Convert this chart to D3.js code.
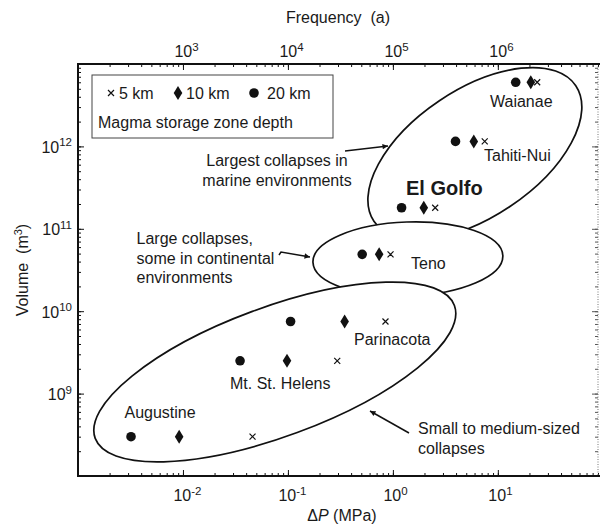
<!DOCTYPE html>
<html>
<head>
<meta charset="utf-8">
<script src="https://cdn.jsdelivr.net/npm/d3@7"></script>
<style>
  html, body { margin: 0; padding: 0; background: #fff; }
  text { font-family: "Liberation Sans", Arial, Helvetica, sans-serif; fill: #1a1a1a; }
</style>
</head>
<body>
<svg id="chart" width="600" height="527"></svg>
<script>
// ---------------- data ----------------
const volcanoes = ["Augustine", "Mt. St. Helens", "Parinacota", "Teno", "El Golfo", "Tahiti-Nui", "Waianae"];
const volume    = [3.0e8, 2.5e9, 7.5e9, 4.9e10, 1.8e11, 1.15e12, 6.0e12];   // m^3
const dp20km    = [0.0032, 0.035, 0.106, 0.51, 1.21, 3.95, 14.8];         // MPa, 20 km depth (circle)
const dp10km    = [0.0092, 0.098, 0.347, 0.74, 1.97, 5.9, 20.6];          // MPa, 10 km depth (diamond)
const dp5km     = [0.046, 0.295, 0.85, 0.95, 2.53, 7.5, 23.7];            // MPa, 5 km depth (cross)

const xTickValues = [1e-2, 1e-1, 1e0, 1e1];
const xTickExp    = ["-2", "-1", "0", "1"];
const topTickValues = [1e3, 1e4, 1e5, 1e6];
const topTickExp    = ["3", "4", "5", "6"];
const yTickValues = [1e9, 1e10, 1e11, 1e12];
const yTickExp    = ["9", "10", "11", "12"];

const xDomain   = [1e-3, 90];
const topDomain = [1e2, 9e6];
const yDomain   = [1e8, 1e13];

// ---------------- layout ----------------
const L = 78, R = 598, T = 64, B = 476;
const svg = d3.select("#chart");

const x = d3.scaleLog().domain(xDomain).range([L, R]);
const xTop = d3.scaleLog().domain(topDomain).range([L, R]);
const y = d3.scaleLog().domain(yDomain).range([B, T]);

// ---------------- annotation ellipses (centre in data units) ----------------
const ellipses = [
  { cx: 6.04, cy: 8.2e11, rx: 121.6, ry: 63.6, rot: -33.9 },
  { cx: 1.39, cy: 4.3e10, rx: 95,    ry: 37,   rot: -2 },
  { cx: 0.075, cy: 1.83e9, rx: 191.5, ry: 64.6, rot: -20.3 }
];
ellipses.forEach(e => {
  const px = x(e.cx), py = y(e.cy);
  svg.append("ellipse")
    .attr("cx", px).attr("cy", py).attr("rx", e.rx).attr("ry", e.ry)
    .attr("transform", `rotate(${e.rot},${px},${py})`)
    .attr("fill", "#fff").attr("stroke", "#111").attr("stroke-width", 1.7);
});

// ---------------- axes ----------------
function styleAxis(g) {
  g.select(".domain").remove();
  g.selectAll("line").attr("stroke", "#111").attr("stroke-width", 1);
  g.selectAll("text").remove();
}
// bottom
svg.append("g").attr("transform", `translate(0,${B})`)
  .call(d3.axisBottom(x).tickValues(x.ticks()).tickSize(-3).tickFormat("")).call(styleAxis);
svg.append("g").attr("transform", `translate(0,${B})`)
  .call(d3.axisBottom(x).tickValues(xTickValues).tickSize(-6).tickFormat("")).call(styleAxis);
// top
svg.append("g").attr("transform", `translate(0,${T})`)
  .call(d3.axisTop(xTop).tickValues(xTop.ticks()).tickSize(-3).tickFormat("")).call(styleAxis);
svg.append("g").attr("transform", `translate(0,${T})`)
  .call(d3.axisTop(xTop).tickValues(topTickValues).tickSize(-6).tickFormat("")).call(styleAxis);
// left
svg.append("g").attr("transform", `translate(${L},0)`)
  .call(d3.axisLeft(y).tickValues(y.ticks()).tickSize(-3).tickFormat("")).call(styleAxis);
svg.append("g").attr("transform", `translate(${L},0)`)
  .call(d3.axisLeft(y).tickValues(yTickValues).tickSize(-6).tickFormat("")).call(styleAxis);
// right (inward ticks, light)
const gr1 = svg.append("g").attr("transform", `translate(${R},0)`)
  .call(d3.axisLeft(y).tickValues(y.ticks()).tickSize(3).tickFormat("")).call(styleAxis);
const gr2 = svg.append("g").attr("transform", `translate(${R},0)`)
  .call(d3.axisLeft(y).tickValues(yTickValues).tickSize(6).tickFormat("")).call(styleAxis);
gr1.selectAll("line").attr("stroke", "#555");
gr2.selectAll("line").attr("stroke", "#555");
svg.append("line").attr("x1", R).attr("x2", R).attr("y1", T).attr("y2", B)
  .attr("stroke", "#777").attr("stroke-width", 1).attr("stroke-dasharray", "1,1.5");

// frame lines (left, bottom, top)
svg.append("path")
  .attr("d", `M${R + 2},${T} H${L} V${B} H${R + 2}`)
  .attr("fill", "none").attr("stroke", "#111").attr("stroke-width", 2);

// tick labels with superscripts
function powLabel(g, px, py, exp, anchor) {
  const t = g.append("text").attr("x", px).attr("y", py).attr("font-size", 16).attr("text-anchor", anchor);
  t.append("tspan").text("10");
  t.append("tspan").attr("font-size", 11.5).attr("dy", -6.5).text(exp);
  return t;
}
const labels = svg.append("g");
xTickValues.forEach((v, i) => powLabel(labels, x(v) - 9.5, 501, xTickExp[i], "start"));
topTickValues.forEach((v, i) => powLabel(labels, xTop(v) - 8.5, 57, topTickExp[i], "start"));
yTickValues.forEach((v, i) => powLabel(labels, 72, y(v) + 6.5, yTickExp[i], "end"));

// axis titles
svg.append("text").attr("x", 338).attr("y", 23).attr("text-anchor", "middle")
  .attr("font-size", 16).style("white-space", "pre").text("Frequency  (a)");
const xt = svg.append("text").attr("x", 342).attr("y", 521).attr("text-anchor", "middle").attr("font-size", 16);
xt.append("tspan").text("\u0394");
xt.append("tspan").attr("font-style", "italic").text("P");
xt.append("tspan").text(" (MPa)");
const yt = svg.append("text").attr("transform", `translate(28,${(T + B) / 2}) rotate(-90)`)
  .attr("text-anchor", "middle").attr("font-size", 16).style("white-space", "pre");
yt.append("tspan").text("Volume  (m");
yt.append("tspan").attr("font-size", 11).attr("dy", -6).text("3");
yt.append("tspan").attr("dy", 6).text(")");

// ---------------- markers ----------------
const symCircle = (g, px, py) => g.append("circle").attr("cx", px).attr("cy", py).attr("r", 4.8).attr("fill", "#111");
const symDiamond = (g, px, py) => g.append("path")
  .attr("d", `M${px},${py - 7} L${px + 4.3},${py} L${px},${py + 7} L${px - 4.3},${py} Z`).attr("fill", "#111");
const symCross = (g, px, py) => g.append("path")
  .attr("d", `M${px - 3},${py - 3} L${px + 3},${py + 3} M${px - 3},${py + 3} L${px + 3},${py - 3}`)
  .attr("stroke", "#111").attr("stroke-width", 1.2).attr("fill", "none");

const pts = svg.append("g");
volcanoes.forEach((name, i) => {
  symCircle(pts, x(dp20km[i]), y(volume[i]));
  symDiamond(pts, x(dp10km[i]), y(volume[i]));
  symCross(pts, x(dp5km[i]), y(volume[i]));
});

// ---------------- volcano labels ----------------
const volcanoLabelPos = {
  "Augustine": [124.5, 417.5, 16, "normal"],
  "Mt. St. Helens": [230, 389, 16, "normal"],
  "Parinacota": [354, 344.5, 16, "normal"],
  "Teno": [411, 269, 16, "normal"],
  "El Golfo": [406, 195, 20, "bold"],
  "Tahiti-Nui": [484, 161, 16, "normal"],
  "Waianae": [490, 107, 16, "normal"]
};
volcanoes.forEach(name => {
  const p = volcanoLabelPos[name];
  svg.append("text").attr("x", p[0]).attr("y", p[1]).attr("font-size", p[2])
    .attr("font-weight", p[3]).text(name);
});

// ---------------- annotation texts & arrows ----------------
function multi(lines, px, py, lh, anchor) {
  const t = svg.append("text").attr("font-size", 16).attr("text-anchor", anchor);
  lines.forEach((s, i) => t.append("tspan").attr("x", px).attr("y", py + i * lh).text(s));
}
multi(["Largest collapses in", "marine environments"], 277, 166, 19.5, "middle");
multi(["Large collapses,", "some in continental", "environments"], 136.5, 244, 19.5, "start");
multi(["Small to medium-sized", "collapses"], 418, 434, 19.5, "start");

svg.append("defs").append("marker").attr("id", "ah")
  .attr("viewBox", "0 0 10 10").attr("refX", 10).attr("refY", 5)
  .attr("markerWidth", 9).attr("markerHeight", 5.5).attr("markerUnits", "userSpaceOnUse")
  .attr("orient", "auto")
  .append("path").attr("d", "M0,0 L10,5 L0,10 Z").attr("fill", "#111");

const arrows = [
  "M345,151 L388,146",
  "M279,255 L281,252 L310,257",
  "M409,433 L370,411"
];
arrows.forEach(d => svg.append("path").attr("d", d).attr("fill", "none")
  .attr("stroke", "#111").attr("stroke-width", 1.5).attr("marker-end", "url(#ah)"));

// ---------------- legend ----------------
const lg = svg.append("g");
lg.append("rect").attr("x", 92).attr("y", 75).attr("width", 241).attr("height", 63)
  .attr("fill", "#fff").attr("stroke", "#444").attr("stroke-width", 1);
symCross(lg, 111, 93);
lg.append("text").attr("x", 119).attr("y", 99).attr("font-size", 16).text("5 km");
symDiamond(lg, 178, 93);
lg.append("text").attr("x", 186).attr("y", 99).attr("font-size", 16).text("10 km");
symCircle(lg, 254, 93);
lg.append("text").attr("x", 267).attr("y", 99).attr("font-size", 16).text("20 km");
lg.append("text").attr("x", 98).attr("y", 128).attr("font-size", 16).text("Magma storage zone depth");
</script>
</body>
</html>
